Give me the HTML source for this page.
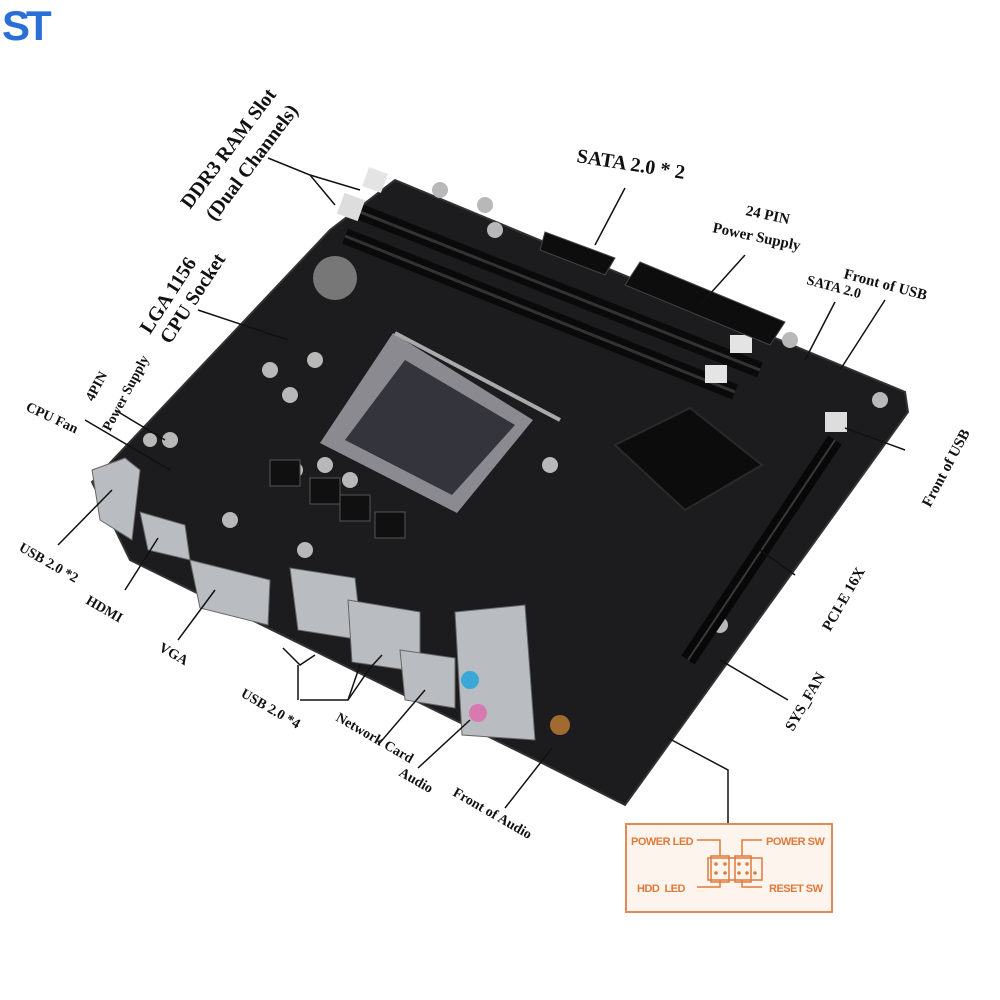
<!DOCTYPE html>
<html><head><meta charset="utf-8"><style>
html,body{margin:0;padding:0;background:#fff}
svg{display:block}
.l{font-family:"Liberation Serif",serif;font-weight:bold;fill:#111}
.o{font-family:"Liberation Sans",sans-serif;font-weight:bold;fill:#e07a3a;font-size:11px;letter-spacing:-0.5px}
</style></head><body>
<svg width="1000" height="1000" viewBox="0 0 1000 1000" xmlns="http://www.w3.org/2000/svg">
<rect width="1000" height="1000" fill="#fff"/>
<!-- logo -->
<text x="2" y="40" font-family="Liberation Sans,sans-serif" font-weight="bold" font-size="42" fill="#2a6fd6" letter-spacing="-4">ST</text>
<!-- board -->
<polygon points="395,180 905,392 908,412 625,805 540,762 130,560 92,482 330,230" fill="#1c1b1d"/>
<polygon points="395,180 905,392 908,412 625,805 540,762 130,560 92,482 330,230" fill="none" stroke="#333" stroke-width="2"/>
<!-- RAM slots -->
<line x1="350" y1="208" x2="760" y2="370" stroke="#0a0a0a" stroke-width="16"/>
<line x1="350" y1="208" x2="760" y2="370" stroke="#333" stroke-width="3"/>
<line x1="345" y1="236" x2="735" y2="392" stroke="#0a0a0a" stroke-width="16"/>
<line x1="345" y1="236" x2="735" y2="392" stroke="#333" stroke-width="3"/>
<rect x="340" y="196" width="22" height="22" fill="#ddd" transform="rotate(20 351 207)"/>
<rect x="365" y="170" width="20" height="20" fill="#e4e4e4" transform="rotate(20 375 180)"/>
<rect x="730" y="335" width="22" height="18" fill="#e4e4e4"/>
<rect x="705" y="365" width="22" height="18" fill="#e4e4e4"/>
<!-- 24pin -->
<polygon points="640,262 785,322 770,345 625,285" fill="#0d0d0d" stroke="#444"/>
<polygon points="545,232 615,258 605,275 540,250" fill="#0d0d0d" stroke="#444"/>
<!-- battery -->
<circle cx="335" cy="278" r="22" fill="#777"/>
<!-- socket -->
<polygon points="320,443 393,333 533,420 457,513" fill="#8a8a90"/>
<polygon points="345,440 405,360 515,425 452,495" fill="#34343c"/>
<line x1="395" y1="333" x2="560" y2="420" stroke="#aaa" stroke-width="4"/>
<!-- heatsink -->
<polygon points="615,445 690,408 762,465 685,510" fill="#0c0c0c" stroke="#2a2a2a" stroke-width="2"/>
<!-- caps -->
<g fill="#b8b8b8">
<circle cx="440" cy="190" r="8"/><circle cx="485" cy="205" r="8"/><circle cx="495" cy="230" r="8"/>
<circle cx="270" cy="370" r="8"/><circle cx="315" cy="360" r="8"/><circle cx="290" cy="395" r="8"/>
<circle cx="295" cy="470" r="8"/><circle cx="325" cy="465" r="8"/><circle cx="350" cy="480" r="8"/>
<circle cx="305" cy="550" r="8"/><circle cx="550" cy="465" r="8"/><circle cx="880" cy="400" r="8"/>
<circle cx="790" cy="340" r="8"/><circle cx="720" cy="625" r="8"/><circle cx="230" cy="520" r="8"/>
<circle cx="170" cy="440" r="8"/><circle cx="150" cy="440" r="7"/>
</g>
<!-- VRM chokes -->
<g fill="#101010" stroke="#555">
<rect x="270" y="460" width="30" height="26"/><rect x="310" y="478" width="30" height="26"/>
<rect x="340" y="495" width="30" height="26"/><rect x="375" y="512" width="30" height="26"/>
</g>
<!-- PCI-E -->
<line x1="835" y1="440" x2="688" y2="660" stroke="#080808" stroke-width="16"/>
<line x1="835" y1="440" x2="688" y2="660" stroke="#3a3a3a" stroke-width="2"/>
<rect x="825" y="412" width="22" height="20" fill="#ddd"/>
<!-- IO -->
<g fill="#b9bcc0" stroke="#666">
<polygon points="92,470 125,458 140,470 132,540 100,520"/>
<polygon points="140,512 185,525 190,560 148,550"/>
<polygon points="190,560 270,580 268,625 200,608"/>
<polygon points="290,568 355,578 362,640 298,630"/>
<polygon points="348,600 420,612 420,672 352,662"/>
<polygon points="400,650 455,658 455,708 405,700"/>
<polygon points="455,612 525,605 535,740 462,735"/>
</g>
<circle cx="470" cy="680" r="9" fill="#3aa8d8"/><circle cx="478" cy="713" r="9" fill="#d87ab0"/>
<circle cx="560" cy="725" r="10" fill="#a06a30"/>
<!-- leader lines -->
<g stroke="#111" stroke-width="1.5" fill="none">
<polyline points="268,158 310,175 335,205"/><line x1="310" y1="175" x2="360" y2="190"/>
<line x1="625" y1="188" x2="595" y2="245"/>
<line x1="745" y1="255" x2="700" y2="305"/>
<line x1="835" y1="302" x2="805" y2="360"/>
<line x1="885" y1="300" x2="840" y2="370"/>
<line x1="905" y1="450" x2="845" y2="428"/>
<line x1="198" y1="310" x2="288" y2="340"/>
<line x1="115" y1="410" x2="165" y2="440"/>
<line x1="85" y1="420" x2="170" y2="470"/>
<line x1="58" y1="545" x2="112" y2="490"/>
<line x1="125" y1="590" x2="158" y2="538"/>
<line x1="178" y1="640" x2="215" y2="590"/>
<polyline points="283,648 300,665 315,655"/><polyline points="298,700 298,665"/>
<polyline points="300,700 348,700 370,668 382,655"/><line x1="348" y1="700" x2="360" y2="665"/>
<line x1="378" y1="745" x2="425" y2="690"/>
<line x1="418" y1="768" x2="470" y2="720"/>
<line x1="505" y1="808" x2="552" y2="748"/>
<line x1="795" y1="575" x2="760" y2="550"/>
<line x1="788" y1="700" x2="720" y2="660"/>
<polyline points="668,738 728,770 728,826"/>
</g>
<!-- labels -->
<text class="l" font-size="20" transform="translate(190,210) rotate(-53)">DDR3 RAM Slot</text>
<text class="l" font-size="20" transform="translate(215,222) rotate(-53)">(Dual Channels)</text>
<text class="l" font-size="20" transform="translate(576,162) rotate(9)">SATA 2.0 * 2</text>
<text class="l" font-size="15" transform="translate(745,215) rotate(12)">24 PIN</text>
<text class="l" font-size="15" transform="translate(712,232) rotate(12)">Power Supply</text>
<text class="l" font-size="15" transform="translate(843,278) rotate(15)">Front of USB</text>
<text class="l" font-size="14" transform="translate(806,284) rotate(15)">SATA 2.0</text>
<text class="l" font-size="20" transform="translate(150,335) rotate(-57)">LGA 1156</text>
<text class="l" font-size="20" transform="translate(170,345) rotate(-57)">CPU Socket</text>
<text class="l" font-size="14" transform="translate(93,402) rotate(-62)">4PIN</text>
<text class="l" font-size="14" transform="translate(110,432) rotate(-62)">Power Supply</text>
<text class="l" font-size="14" transform="translate(25,410) rotate(25)">CPU Fan</text>
<text class="l" font-size="14" transform="translate(18,550) rotate(30)">USB 2.0 *2</text>
<text class="l" font-size="14" transform="translate(85,603) rotate(30)">HDMI</text>
<text class="l" font-size="14" transform="translate(158,650) rotate(30)">VGA</text>
<text class="l" font-size="14" transform="translate(240,696) rotate(30)">USB 2.0 *4</text>
<text class="l" font-size="14" transform="translate(335,720) rotate(30)">Network Card</text>
<text class="l" font-size="14" transform="translate(398,775) rotate(30)">Audio</text>
<text class="l" font-size="14" transform="translate(452,795) rotate(30)">Front of Audio</text>
<text class="l" font-size="15" transform="translate(830,632) rotate(-60)">PCI-E 16X</text>
<text class="l" font-size="15" transform="translate(793,732) rotate(-60)">SYS_FAN</text>
<text class="l" font-size="15" transform="translate(930,508) rotate(-62)">Front of USB</text>
<!-- front panel box -->
<rect x="626" y="824" width="206" height="88" fill="#fdf4ee" stroke="#e08a55" stroke-width="2"/>
<text class="o" x="631" y="845">POWER LED</text>
<text class="o" x="766" y="845">POWER SW</text>
<text class="o" x="637" y="892">HDD&#160;&#160;LED</text>
<text class="o" x="769" y="892">RESET SW</text>
<g stroke="#e07a3a" stroke-width="1.5" fill="none">
<polyline points="697,840 720,840 720,856"/><polyline points="762,840 742,840 742,856"/>
<polyline points="697,887 720,887 720,880"/><polyline points="762,887 742,887 742,880"/>
<rect x="711" y="856" width="18" height="26"/><rect x="735" y="856" width="16" height="26"/>
<rect x="708" y="858" width="54" height="22"/>
</g>
<g fill="#e07a3a">
<circle cx="716" cy="864" r="1.8"/><circle cx="725" cy="864" r="1.8"/><circle cx="739" cy="864" r="1.8"/><circle cx="747" cy="864" r="1.8"/>
<circle cx="716" cy="873" r="1.8"/><circle cx="725" cy="873" r="1.8"/><circle cx="739" cy="873" r="1.8"/><circle cx="747" cy="873" r="1.8"/><circle cx="755" cy="873" r="1.8"/>
</g>
</svg>
</body></html>
